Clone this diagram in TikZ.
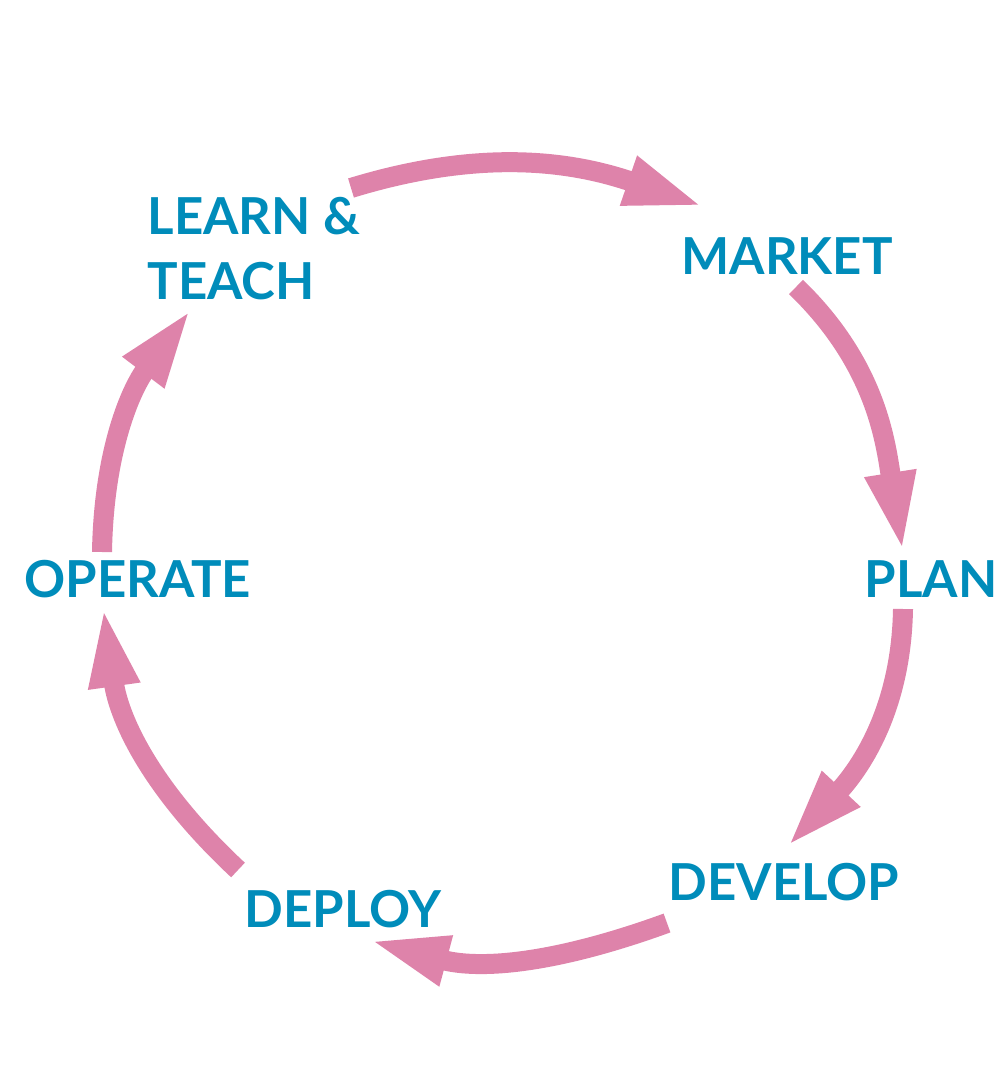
\documentclass[tikz,border=0pt]{standalone}
\usepackage{fontspec}
\setmainfont{Lato}
\usetikzlibrary{arrows.meta}
\definecolor{cyclepink}{RGB}{222,131,170}
\definecolor{cycleblue}{RGB}{0,140,186}
\tikzset{
  stage/.style={text=cycleblue,font=\bfseries\fontsize{14.5}{18.4}\selectfont,inner sep=0pt},
  cyc/.style={draw=cyclepink,line width=0.2cm,-{Triangle[length=0.81cm,width=0.46cm]}}
}
\begin{document}
\begin{tikzpicture}
    \useasboundingbox (0,0) rectangle (9.96,-10.80);

    \node[stage,anchor=north west,align=left] (LT) at (1.47,-1.97) {LEARN \&\\TEACH};
    \node[stage,anchor=base] (MK) at (7.87,-2.75) {MARKET};
    \node[stage,anchor=base] (PL) at (9.31,-5.97) {PLAN};
    \node[stage,anchor=base] (DV) at (7.84,-9.00) {DEVELOP};
    \node[stage,anchor=base] (DP) at (3.43,-9.27) {DEPLOY};
    \node[stage,anchor=base] (OP) at (1.38,-5.97) {OPERATE};

    \coordinate (S1) at (3.51,-1.88);
    \coordinate (E1) at (7.05,-2.07);
    \coordinate (S2) at (7.96,-2.87);
    \coordinate (E2) at (9.03,-5.53);
    \coordinate (S3) at (9.03,-6.09);
    \coordinate (E3) at (7.86,-8.48);
    \coordinate (S4) at (6.67,-9.23);
    \coordinate (E4) at (3.68,-9.40);
    \coordinate (S5) at (2.38,-8.70);
    \coordinate (E5) at (1.03,-6.06);
    \coordinate (S6) at (1.02,-5.52);
    \coordinate (E6) at (1.92,-3.08);

    \draw[cyc] (S1) to[out=17,in=161] (E1);
    \draw[cyc] (S2) to[out=-44,in=99] (E2);
    \draw[cyc] (S3) to[out=-91,in=47] (E3);
    \draw[cyc] (S4) to[out=200,in=-15] (E4);
    \draw[cyc] (S5) to[out=137,in=-82] (E5);
    \draw[cyc] (S6) to[out=89,in=-127] (E6);

\end{tikzpicture}
\end{document}
